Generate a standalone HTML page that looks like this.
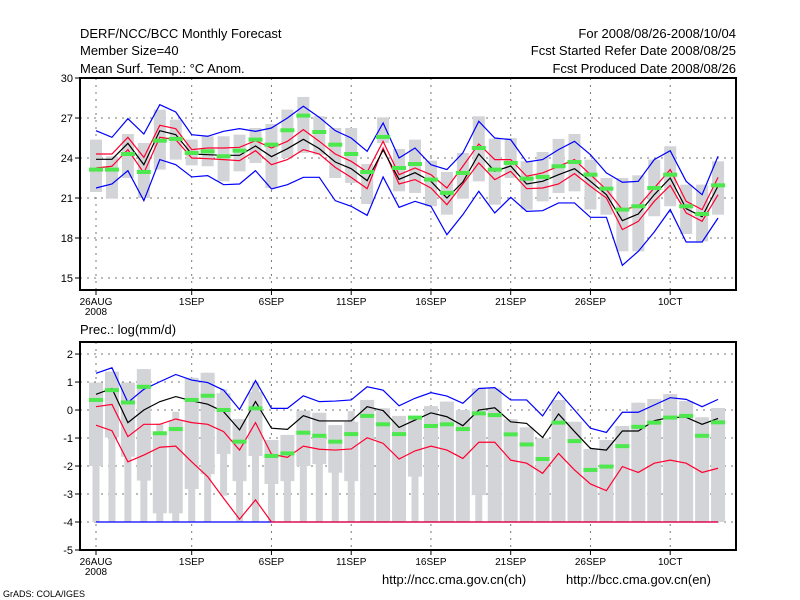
<!DOCTYPE html>
<html><head><meta charset="utf-8">
<style>
body{margin:0;background:#fff;}
svg{display:block;font-family:"Liberation Sans","DejaVu Sans",sans-serif;}
text{fill:#000;}
</style></head>
<body>
<svg id="c" width="800" height="600" viewBox="0 0 800 600">
<rect width="800" height="600" fill="#fff"/>
<g font-size="13">
<text x="80" y="38">DERF/NCC/BCC Monthly Forecast</text>
<text x="80" y="55">Member Size=40</text>
<text x="80" y="73">Mean Surf. Temp.: °C Anom.</text>
<text x="736" y="38" text-anchor="end">For 2008/08/26-2008/10/04</text>
<text x="736" y="55" text-anchor="end">Fcst Started Refer Date 2008/08/25</text>
<text x="736" y="73" text-anchor="end">Fcst Produced Date 2008/08/26</text>
<text x="80" y="334">Prec.: log(mm/d)</text>
<text x="382" y="584">http://ncc.cma.gov.cn(ch)</text>
<text x="566" y="584">http://bcc.cma.gov.cn(en)</text>
</g>
<text x="3" y="597" font-size="9">GrADS: COLA/IGES</text>
<g id="top"></g>
<g id="bot"></g>
</svg>
<script>
// ---- temperature data (days 0..39 from 26AUG) ----
const tBlack=[23.9,23.9,25.1,23.5,26.05,25.75,24.3,24.25,24.2,24.2,24.9,24.1,24.7,25.4,24.7,23.7,23.2,22.3,24.6,22.4,22.9,22.25,21.0,22.2,24.3,23.0,23.4,22.05,22.25,22.75,23.2,22.25,21.25,19.3,19.8,21.25,22.5,20.2,19.6,21.9];
const tRedHi=[24.3,24.3,25.55,24.05,26.45,26.2,24.63,24.75,24.75,24.8,25.3,24.75,25.25,26.13,25.25,24.3,23.75,22.95,25.25,22.75,23.25,22.75,21.75,23.38,25.05,23.88,23.88,22.63,22.88,23.38,23.88,22.75,21.63,20.13,20.38,21.75,23.13,20.75,20.13,22.55];
const tRedLo=[23.25,23.38,24.63,22.88,25.55,25.38,24.0,23.95,23.88,23.8,24.55,23.5,23.88,24.63,24.3,23.3,22.55,21.7,24.75,22.05,22.38,21.75,20.5,22.05,23.63,22.38,23.0,21.7,21.75,22.05,22.83,21.88,21.0,18.63,19.25,20.75,21.95,19.88,19.25,21.25];
const tBlueHi=[26.05,25.55,26.95,25.8,28.0,27.45,25.75,25.63,26.0,26.2,26.0,26.25,27.0,27.88,27.05,26.05,25.5,24.5,26.63,24.0,24.75,23.5,23.13,24.38,26.75,25.5,25.38,23.7,23.88,24.63,25.25,24.25,22.88,22.18,22.25,23.88,24.55,22.25,21.25,24.13];
const tBlueLo=[21.75,22.05,23.05,20.8,23.88,23.5,22.58,22.68,22.0,22.05,23.05,21.68,22.0,22.55,22.55,20.8,20.38,19.7,22.58,20.3,20.75,20.38,18.25,19.75,21.5,19.88,21.05,20.0,20.05,20.63,20.63,19.55,19.55,15.95,17.0,18.45,20.13,17.7,17.7,19.5];
const tMean=[23.13,23.13,24.3,22.95,25.3,25.43,24.38,24.5,24.13,24.55,25.38,25.0,26.08,27.18,25.95,25.0,24.3,22.95,25.58,23.25,23.55,22.38,21.38,22.88,24.75,23.13,23.63,22.45,22.58,23.38,23.7,22.75,21.7,20.13,20.38,21.75,22.75,20.38,19.8,21.95];
const tMax=[25.38,24.13,25.8,25.13,27.63,26.88,25.38,25.63,25.63,25.75,26.25,26.55,27.63,28.58,27.13,26.25,26.25,23.55,27.05,24.68,25.38,23.8,22.95,24.38,27.13,25.45,25.5,23.75,24.45,25.43,25.8,23.88,22.5,22.5,22.7,23.88,24.88,22.0,22.0,23.75];
const tMin=[21.45,20.95,22.5,21.0,23.13,23.88,23.45,23.38,22.25,23.0,23.63,21.75,24.0,24.38,24.25,22.5,22.13,20.55,25.13,21.5,21.38,20.38,19.75,20.95,22.25,20.5,22.5,20.13,20.75,21.38,21.5,20.13,19.75,17.0,17.0,19.63,20.38,18.3,17.75,19.75];
const tYTicks=[30,27,24,21,18,15];
// ---- precipitation data ----
const pBlack=[0.56,0.77,-0.45,0,0.30,0.48,0.33,0.21,-0.06,-0.71,0.30,-0.65,-0.69,-0.2,-0.39,-0.39,-0.39,0.12,-0.02,-0.62,-0.36,-0.1,-0.24,-0.56,0,0.08,-0.42,-0.48,-0.98,-0.14,-0.77,-1.37,-1.43,-0.75,-0.75,-0.38,-0.26,-0.26,-0.51,-0.3];
const pBlueHi=[1.31,1.51,0.27,0.74,1.01,1.27,1.07,0.98,0.71,0.02,1.05,0.06,0.06,0.51,0.30,0.32,0.36,0.83,0.71,0.15,0.42,0.62,0.5,0.24,0.77,0.8,0.36,0.36,-0.21,0.65,0,-0.65,-0.8,-0.08,-0.08,0.18,0.44,0.38,0.12,0.38];
const pRedHi=[0.12,0.2,-0.95,-0.51,-0.51,-0.32,-0.45,-0.51,-0.77,-1.43,-0.45,-1.58,-1.69,-1.29,-1.40,-1.43,-1.39,-0.99,-1.19,-1.75,-1.46,-1.29,-1.43,-1.73,-1.15,-1.15,-1.79,-1.9,-2.26,-1.55,-2.14,-2.64,-2.88,-2.02,-2.23,-1.9,-1.79,-1.9,-2.23,-2.08];
const pRedLo=[-0.54,-0.74,-1.85,-1.61,-1.33,-1.29,-1.85,-2.38,-3.15,-3.9,-3.21,-4,-4,-4,-4,-4,-4,-4,-4,-4,-4,-4,-4,-4,-4,-4,-4,-4,-4,-4,-4,-4,-4,-4,-4,-4,-4,-4,-4,-4];
const pBlueLo=[-4,-4,-4,-4,-4,-4,-4,-4,-4,-4,-4,-4,-4,-4,-4,-4,-4,-4,-4,-4,-4,-4,-4,-4,-4,-4,-4,-4,-4,-4,-4,-4,-4,-4,-4,-4,-4,-4,-4,-4];
const pMean=[0.36,0.71,0.27,0.83,-0.83,-0.68,0.36,0.51,0,-1.13,0.06,-1.64,-1.55,-0.81,-0.92,-1.13,-0.86,-0.21,-0.51,-0.86,-0.27,-0.57,-0.51,-0.68,-0.12,-0.18,-0.87,-1.23,-1.75,-0.45,-1.11,-2.14,-2.02,-1.29,-0.6,-0.45,-0.27,-0.21,-0.92,-0.44];
const pMax=[0.98,1.37,0.98,1.46,-0.48,-0.06,1.15,1.33,0.74,-0.32,1.01,-1.07,-0.89,-0.02,-0.1,-0.54,-0.04,0.36,0.06,-0.21,-0.21,0.14,0.3,0,0.77,0.77,-0.33,-0.62,-1.01,0.36,-0.42,-1.39,-1.07,-0.57,0.26,0.39,0.57,0.32,-0.26,0.07];
const pQ3=[0.98,1.37,0.98,1.46,-0.83,-0.36,1.15,1.33,0.6,-0.32,0.65,-1.07,-0.89,-0.02,-0.1,-0.54,-0.42,0.36,0.06,-0.21,-0.21,0.14,0.3,0,0.77,0.77,-0.33,-0.62,-1.01,0.36,-0.42,-1.39,-1.07,-0.57,0.26,0.39,0.57,0.32,-0.26,0.07];
const pQ1=[-2.0,-0.98,-1.67,-2.52,-3.69,-3.69,-2.82,-2.29,-1.57,-2.54,-1.64,-2.64,-2.54,-2.0,-1.93,-2.24,-2.54,-4,-4,-4,-2.38,-4,-4,-4,-3.04,-4,-4,-4,-4,-4,-4,-4,-4,-4,-4,-4,-4,-4,-4,-4];
const pMin=[-4,-4,-4,-4,-4,-4,-4,-4,-3.06,-4,-4,-4,-4,-4,-4,-4,-4,-4,-4,-4,-4,-4,-4,-4,-4,-4,-4,-4,-4,-4,-4,-4,-4,-4,-4,-4,-4,-4,-4,-4];
const pYTicks=[2,1,0,-1,-2,-3,-4,-5];
const xTickDays=[0,6,11,16,21,26,31,36];
const xTickText=["26AUG","1SEP","6SEP","11SEP","16SEP","21SEP","26SEP","10CT"];

const NS="http://www.w3.org/2000/svg";
const X0=96, DX=15.95, L=80, R=736;
const xs=d=>X0+d*DX;
function mk(tag,attrs,parent){const e=document.createElementNS(NS,tag);for(const k in attrs)e.setAttribute(k,attrs[k]);parent.appendChild(e);return e;}

function panel(g,top,bot,vTop,vBot,yTicks,gridVals,boxes,lines,means,prefix){
  const ys=v=>top+(vTop-v)*(bot-top)/(vTop-vBot);
  gridVals.forEach(v=>{const e=mk('line',{x1:L,x2:R,y1:ys(v),y2:ys(v),stroke:'#777','stroke-dasharray':'2,5','stroke-width':1},g);
    
    });
  xTickDays.forEach(d=>{const e=mk('line',{x1:xs(d),x2:xs(d),y1:top,y2:bot,stroke:'#777','stroke-dasharray':'2,5','stroke-width':1},g);
    
    });
  boxes(g,ys);
  lines.forEach(([arr,col,name])=>{
    const e=mk('polyline',{points:arr.map((v,i)=>xs(i)+','+ys(v)).join(' '),fill:'none',stroke:col,'stroke-width':1.2},g);
    
    
  });
  means.forEach((v,i)=>{const e=mk('rect',{x:xs(i)-7,y:ys(v)-2,width:14,height:4,fill:'#4de84d'},g);
    
    });
  const f=mk('rect',{x:L,y:top,width:R-L,height:bot-top,fill:'none',stroke:'#000','stroke-width':2},g);
  
  
  yTicks.forEach(v=>{
    const tk=mk('line',{x1:L-5,x2:L,y1:ys(v),y2:ys(v),stroke:'#000'},g);
    
    
    const t=mk('text',{x:L-7,y:ys(v)+4,'text-anchor':'end','font-size':11},g);t.textContent=v;
    
    
  });
  xTickDays.forEach((d,k)=>{
    const tk=mk('line',{x1:xs(d),x2:xs(d),y1:bot,y2:bot+5,stroke:'#000'},g);
    
    
    const t=mk('text',{x:xs(d),y:bot+15,'text-anchor':'middle','font-size':10},g);t.textContent=xTickText[k];
    
    
  });
  const t=mk('text',{x:xs(0),y:bot+25,'text-anchor':'middle','font-size':10},g);t.textContent='2008';
  
  
}

panel(document.getElementById('top'),78,290,30,14.1,tYTicks,[27,24,21,18,15],
 (g,ys)=>{tMax.forEach((v,i)=>{const e=mk('rect',{x:xs(i)-6,y:ys(v),width:12,height:ys(tMin[i])-ys(v),fill:'#d3d4d8'},g);
   
   });},
 [[tBlueHi,'#0000ff','temp-blue-upper'],[tBlueLo,'#0000ff','temp-blue-lower'],[tRedHi,'#ff0030','temp-red-upper'],[tRedLo,'#ff0030','temp-red-lower'],[tBlack,'#000','temp-ensemble-mean']],
 tMean,'temp');

panel(document.getElementById('bot'),342,550,2.43,-5,pYTicks,[2,1,0,-1,-2,-3,-4],
 (g,ys)=>{pMax.forEach((v,i)=>{
   const w=mk('rect',{x:xs(i)-3.5,y:ys(v),width:7,height:ys(pMin[i])-ys(v),fill:'#d3d4d8'},g);
   
   
   const b=mk('rect',{x:xs(i)-7,y:ys(pQ3[i]),width:14,height:ys(pQ1[i])-ys(pQ3[i]),fill:'#d3d4d8'},g);
   
   });},
 [[pBlueHi,'#0000ff','precip-blue-upper'],[pBlueLo,'#0000ff','precip-blue-lower'],[pRedHi,'#ff0030','precip-red-upper'],[pRedLo,'#ff0030','precip-red-lower'],[pBlack,'#000','precip-ensemble-mean']],
 pMean,'precip');
</script>
</body></html>
